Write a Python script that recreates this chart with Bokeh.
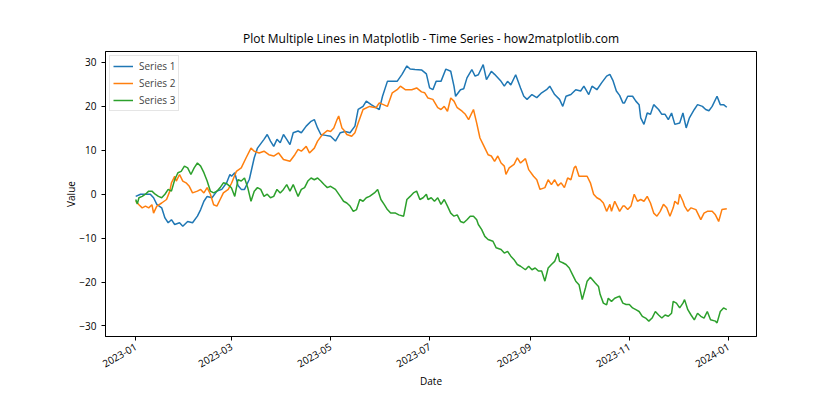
import math
import pandas as pd
from bokeh.plotting import figure
from bokeh.models import Range1d, FixedTicker, DatetimeTickFormatter, Legend, LegendItem
from bokeh.embed import file_html
from bokeh.resources import INLINE

start = pd.Timestamp("2023-01-01")

s1_days = [0, 3, 6, 9, 11, 13, 16, 18, 20, 22, 24, 27, 29, 32, 35, 38, 40, 42, 44, 47, 50, 53, 56, 58,
           59, 61, 63, 65, 67, 70, 73, 75, 79, 81, 83, 85, 87, 89, 91, 93, 95, 97, 100, 102, 105, 108, 110,
           112, 114, 117, 120, 123, 126, 129, 132, 135, 137, 140, 142, 145, 148, 150, 152, 155, 158, 161,
           164, 167, 169, 172, 176, 179, 181, 183, 185, 188, 191, 194, 196, 197, 200, 202, 204, 207, 209,
           211, 214, 216, 219, 221, 223, 225, 227, 229, 231, 234, 237, 239, 241, 244, 247, 250, 253, 255,
           258, 261, 263, 265, 268, 271, 274, 276, 279, 281, 284, 287, 290, 292, 294, 296, 298, 300, 301,
           303, 306, 308, 310, 311, 313, 315, 317, 319, 322, 324, 326, 328, 330, 332, 335, 337, 339, 341,
           344, 346, 349, 351, 353, 355, 358, 360, 362, 364]
s1_vals = [-0.5, 0.0, 0.0, 0.0, -0.8, -2.3, -3.1, -5.4, -6.5, -5.8, -6.9, -6.5, -7.3, -6.2, -6.5, -5.0,
           -3.5, -1.6, -0.5, -0.8, 0.7, 1.1, 2.6, 4.5,
           4.1, 4.9, 2.0, 1.1, 1.1, 3.4, 8.3, 10.5, 12.5, 13.6, 12.1, 10.9, 12.5, 11.7, 13.6, 12.5, 11.3,
           14.0, 14.4, 14.0, 15.5, 16.6, 17.0,
           15.1, 13.6, 13.4, 13.2, 12.1, 14.0, 14.3, 14.0, 15.5, 19.3, 20.0, 21.2, 20.4, 19.7, 19.3, 22.3,
           25.7, 25.7, 25.7,
           27.3, 29.2, 28.5, 28.4, 28.3, 27.4, 24.2, 23.8, 25.7, 25.7, 28.5, 28.0, 24.6, 22.3, 23.8, 24.0,
           26.5, 28.4, 26.9,
           27.2, 29.5, 26.1, 28.0, 27.3, 26.5, 25.7, 24.6, 25.7, 24.9, 27.2, 24.2, 22.3, 21.6, 22.7, 22.0,
           23.1, 23.8, 24.6,
           22.7, 21.6, 20.0, 22.3, 22.7, 23.8, 23.5, 24.6, 22.7, 24.6, 23.8, 25.4, 26.9, 27.3, 25.8, 23.5,
           22.5, 20.8, 20.8,
           22.3, 22.3, 21.2, 20.4, 17.4, 15.9, 18.5, 18.2, 20.4, 19.3, 18.2, 18.2, 17.0, 18.5, 15.9, 16.2,
           18.5, 15.1, 17.4,
           19.3, 20.4, 20.0, 19.3, 19.0, 20.0, 22.3, 20.4, 20.4, 19.8]

s2_days = [0, 2, 4, 6, 8, 10, 11, 13, 16, 19, 21, 22, 24, 25, 27, 29, 31, 33, 35, 38, 40, 42, 44, 46, 48,
           50, 52, 54, 57, 59, 62, 65, 68, 71, 73, 76, 79, 82, 85, 88, 91, 95, 98, 100, 102, 105, 107, 110,
           112, 115, 118, 120, 122, 124, 125, 127, 128, 130, 133, 135, 137, 140, 144, 148, 150, 155, 158,
           161, 163, 166, 170, 173, 176, 178, 180, 183, 186, 188, 190, 192, 194, 196, 198, 201, 203, 205,
           208, 210, 212, 214, 217, 219, 221, 223, 225, 227, 228, 230, 233, 235, 237, 240, 242, 245, 247,
           249, 252, 254, 256, 258, 260, 262, 264, 266, 268, 270, 271, 273, 276, 278, 280, 282, 284, 286,
           288, 290, 292, 293, 295, 298, 300, 301, 303, 305, 307, 309, 311, 313, 315, 317, 319, 321, 323,
           325, 327, 329, 331, 332, 334, 335, 337, 338, 340, 342, 345, 348, 350, 352, 355, 357, 359, 361, 364]
s2_vals = [-1.6, -2.4, -3.1, -2.7, -3.1, -2.4, -4.3, -2.7, -2.0, -1.2, 0.7, 2.6, 4.1, 3.0, 4.5, 3.0, 2.6,
           1.8, 0.3, 0.7, 1.1, 0.3, 1.5, 0.0, -2.4,
           -2.7, -1.2, 0.3, 1.1, 2.5, 5.2, 6.0, 8.3, 10.5, 9.8, 9.4, 9.8, 9.0, 8.7, 9.4, 7.9, 7.5, 9.0, 10.2,
           9.8, 10.9, 9.4, 10.5,
           12.1, 13.6, 14.5, 14.3, 15.1, 17.0, 17.8, 15.1, 14.7, 13.6, 13.2, 14.0, 16.2, 19.3, 20.0, 19.7,
           20.8, 20.0, 23.1,
           23.8, 24.6, 23.8, 23.8, 24.2, 23.3, 23.1, 21.9, 21.6, 19.7, 19.3, 20.0, 18.9, 21.9, 21.2, 19.7,
           18.9, 18.2, 17.0,
           19.3, 16.2, 12.8, 11.3, 9.0, 8.7, 7.5, 8.7, 7.1, 6.4, 4.5, 6.0, 6.8, 8.3, 7.1, 8.1, 5.6, 4.1, 3.3,
           1.1, 1.5, 3.3, 2.2, 3.3, 1.9, 2.6, 1.5, 3.7, 3.3, 6.0, 6.4, 4.1, 4.1, 4.1, 2.6, 0.0, -0.8, -1.2,
           -2.0, -3.9, -2.3, -3.9, -1.6, -3.9, -2.7, -2.7, -3.5, -2.7, 0.0, -1.6, -1.2, -1.6, -0.5, -2.0,
           -4.3, -5.0, -3.9,
           -2.3, -3.1, -5.0, -3.1, -1.6, -2.3, 0.0, -1.6, -2.7, -3.9, -3.1, -3.5, -5.8, -4.3, -3.9, -3.9,
           -4.7, -6.2, -3.5, -3.3]

s3_days = [0, 1, 2, 4, 6, 8, 10, 12, 14, 16, 18, 20, 22, 24, 26, 28, 30, 32, 34, 36, 38, 40, 42, 44, 46,
           48, 50, 52, 54, 56, 58, 59, 61, 63, 65, 67, 69, 71, 73, 75, 77, 79, 81, 83, 85, 87, 89, 91, 93,
           95, 97, 100, 102, 104, 106, 108, 110, 112, 114, 116, 118, 120, 123, 126, 128, 130, 132, 134, 136,
           138, 140, 142, 144, 147, 149, 151, 153, 155, 157, 160, 162, 165, 167, 169, 171, 173, 175, 177,
           179, 180, 182, 184, 186, 188, 190, 192, 194, 196, 198, 200, 202, 204, 206, 208, 210, 211, 213,
           215, 217, 220, 222, 225, 227, 229, 231, 233, 235, 237, 240, 242, 244, 246, 248, 250, 252, 254,
           256, 258, 260, 261, 263, 265, 267, 269, 271, 273, 275, 277, 278, 280, 283, 285, 286, 288, 290,
           291, 293, 295, 298, 300, 302, 304, 306, 308, 310, 312, 314, 316, 318, 320, 322, 324, 326, 328,
           330, 331, 333, 335, 337, 338, 340, 342, 344, 346, 348, 350, 352, 354, 357, 358, 360, 362, 364]
s3_vals = [-1.2, -2.2, -0.8, -0.5, 0.0, 0.7, 0.7, 0.0, -0.5, -0.8, 0.0, 1.1, 0.7, 3.3, 4.9, 5.2, 6.4, 6.0,
           4.5, 6.0, 7.1, 6.4, 4.9, 3.0, 0.7,
           0.3, 0.7, 1.5, 2.6, 2.4, 1.8, 1.4, -0.5, 3.3, 3.0, 3.7, 1.5, -1.6, 0.7, 1.5, 1.1, -0.5, 0.0, -0.8,
           -0.5, 1.1, 0.3, 1.1, 2.2,
           0.7, 2.2, -0.5, 1.1, 1.5, 3.0, 3.7, 3.3, 3.7, 3.0, 2.2, 1.5, 1.8, 1.1, -0.5, -1.6, -2.0, -2.7,
           -3.9, -3.5,
           -1.2, -1.6, -0.8, -0.5, 0.3, 1.1, -1.2, -2.3, -3.5, -4.3, -4.3, -4.7, -5.0, -1.2, -0.5, 0.3, 0.7,
           -1.2, -0.8,
           0.0, -1.2, -0.8, -1.6, -0.8, -2.3, -1.2, -2.7, -4.3, -5.0, -4.7, -6.2, -6.5, -5.8, -5.0, -5.0,
           -5.8, -6.9, -8.0,
           -9.6, -10.3, -10.7, -12.2, -12.6, -13.4, -13.0, -14.1, -14.9, -16.0, -16.4, -17.2, -16.4, -17.2,
           -16.8, -17.5, -17.5, -19.8, -16.8,
           -16.0, -15.3, -13.4, -15.3, -15.6, -16.0, -16.8, -18.3, -19.8, -20.6, -24.0, -21.3, -19.8, -18.9,
           -20.2, -21.0, -22.8, -24.8, -25.2,
           -23.7, -24.4, -23.7, -23.2, -24.8, -25.1, -25.1, -25.9, -26.3, -26.7, -27.8, -28.2, -28.9, -28.2,
           -26.7, -27.5, -28.2, -27.5, -27.8,
           -27.1, -24.4, -24.8, -25.9, -24.8, -24.0, -26.3, -27.5, -28.6, -27.1, -27.8, -28.2, -26.7, -28.6,
           -28.9, -29.3, -26.7, -25.9, -26.3]

series_names = ["Series 1", "Series 2", "Series 3"]
series_colors = ["#1f77b4", "#ff7f0e", "#2ca02c"]
tick_dates = ["2023-01-01", "2023-03-01", "2023-05-01", "2023-07-01", "2023-09-01", "2023-11-01", "2024-01-01"]
y_ticks = [-30, -20, -10, 0, 10, 20, 30]

FONT = "Open Sans"


def to_dates(days):
    return [start + pd.Timedelta(days=d) for d in days]


p = figure(
    x_axis_type="datetime",
    output_backend="svg",
    toolbar_location=None,
    frame_width=651,
    frame_height=285,
    min_border_left=105,
    min_border_right=60,
    min_border_top=51,
    min_border_bottom=60,
    x_range=Range1d(start=start + pd.Timedelta(days=-18.6), end=start + pd.Timedelta(days=382.3)),
    y_range=Range1d(start=-32.4, end=32.5),
    title="Plot Multiple Lines in Matplotlib - Time Series - how2matplotlib.com",
    x_axis_label="Date",
    y_axis_label="Value",
)
p.background_fill_color = "white"
p.border_fill_color = "white"
p.grid.visible = False
p.outline_line_color = "black"
p.outline_line_width = 1

p.title.align = "center"
p.title.text_font = FONT
p.title.text_font_size = "12px"
p.title.text_font_style = "normal"
p.title.text_color = "black"

data = [(s1_days, s1_vals), (s2_days, s2_vals), (s3_days, s3_vals)]
renderers = []
for (d, v), c in zip(data, series_colors):
    r = p.line(to_dates(d), v, line_color=c, line_width=1.5)
    renderers.append(r)

tick_ms = [pd.Timestamp(t).value // 10**6 for t in tick_dates]
p.xaxis.ticker = FixedTicker(ticks=tick_ms)
fmt = "%Y-%m"
p.xaxis.formatter = DatetimeTickFormatter(
    milliseconds=fmt, seconds=fmt, minsec=fmt, minutes=fmt, hourmin=fmt, hours=fmt,
    days=fmt, months=fmt, years=fmt,
)
p.xaxis.major_label_orientation = math.radians(30)
p.yaxis.ticker = FixedTicker(ticks=y_ticks)

for ax in (p.xaxis, p.yaxis):
    ax.major_tick_in = 0
    ax.major_tick_out = 4
    ax.minor_tick_line_color = None
    ax.axis_line_color = "black"
    ax.major_tick_line_color = "black"
    ax.major_label_text_font = FONT
    ax.major_label_text_font_size = "10px"
    ax.major_label_text_color = "black"
    ax.axis_label_text_font = FONT
    ax.axis_label_text_font_size = "10px"
    ax.axis_label_text_font_style = "normal"
    ax.axis_label_text_color = "black"

p.xaxis.axis_label_standoff = 0
p.yaxis.axis_label_standoff = -2

legend = Legend(
    items=[LegendItem(label=n, renderers=[r]) for n, r in zip(series_names, renderers)],
    location="top_left",
    margin=4,
    padding=3,
    spacing=3,
    glyph_width=20,
    glyph_height=12,
    label_height=12,
    label_standoff=6,
    label_text_font=FONT,
    label_text_font_size="10px",
    border_line_color="#cccccc",
    background_fill_alpha=0.8,
)
p.add_layout(legend)

open("out.html", "w").write(file_html(p, INLINE))
